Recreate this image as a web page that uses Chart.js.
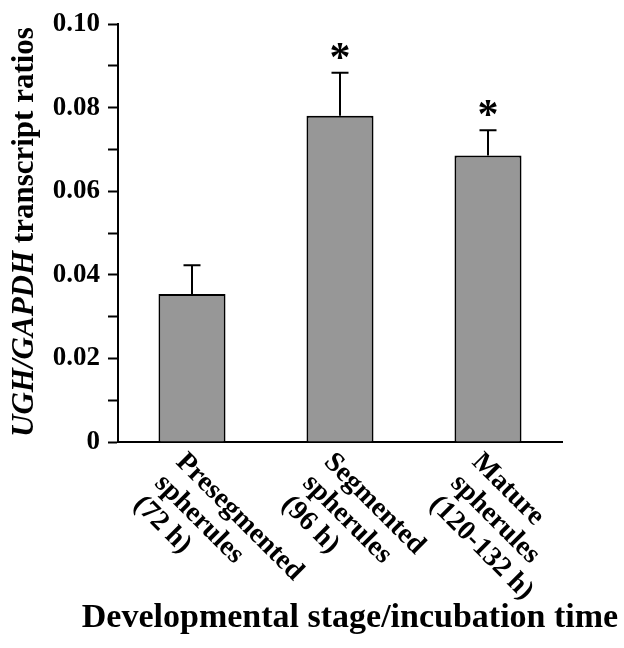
<!DOCTYPE html>
<html>
<head>
<meta charset="utf-8">
<script src="https://cdn.jsdelivr.net/npm/chart.js@4"></script>
<style>
  html, body { margin: 0; padding: 0; background: #fff; }
  canvas { display: block; }
</style>
</head>
<body>
<canvas id="c" width="624" height="648"></canvas>
<script>
// ---- data ----
const categories = [
  ['Presegmented', 'spherules', '(72 h)'],
  ['Segmented', 'spherules', '(96 h)'],
  ['Mature', 'spherules', '(120-132 h)']
];
const ratioValues = [0.0354, 0.0781, 0.0686];
const errorValues = [0.0069, 0.0103, 0.0060];
const significance = ['', '*', '*'];
const yTickLabels = ['0', '0.02', '0.04', '0.06', '0.08', '0.10'];
const yTitleItalic = 'UGH/GAPDH';
const yTitleRest = ' transcript ratios';
const xTitle = 'Developmental stage/incubation time';

const SERIF = "'Liberation Serif', 'Times New Roman', serif";

const annotatePlugin = {
  id: 'annotate',
  afterDatasetsDraw(chart) {
    const ctx = chart.ctx;
    const meta = chart.getDatasetMeta(0);
    const y = chart.scales.y;
    ctx.save();
    ctx.strokeStyle = '#000';
    ctx.lineWidth = 2;
    meta.data.forEach((bar, i) => {
      const top = y.getPixelForValue(ratioValues[i]);
      const errTop = y.getPixelForValue(ratioValues[i] + errorValues[i]);
      ctx.beginPath();
      ctx.moveTo(bar.x, top);
      ctx.lineTo(bar.x, errTop);
      ctx.moveTo(bar.x - 8.5, errTop);
      ctx.lineTo(bar.x + 8.5, errTop);
      ctx.stroke();
      if (significance[i]) {
        ctx.font = 'bold 42px ' + SERIF;
        ctx.fillStyle = '#000';
        ctx.textAlign = 'center';
        ctx.textBaseline = 'alphabetic';
        const m = ctx.measureText(significance[i]);
        const asc = m.actualBoundingBoxAscent, desc = m.actualBoundingBoxDescent;
        const cy = errTop - 22;
        ctx.fillText(significance[i], bar.x, cy - (desc - asc) / 2);
      }
    });
    ctx.restore();
  },
  afterDraw(chart) {
    const ctx = chart.ctx;
    const xs = chart.scales.x;
    const area = chart.chartArea;
    ctx.save();
    ctx.fillStyle = '#000';
    // rotated category labels
    ctx.font = 'bold 28px ' + SERIF;
    ctx.textAlign = 'left';
    ctx.textBaseline = 'alphabetic';
    categories.forEach((lines, i) => {
      const px = xs.getPixelForValue(i);
      ctx.save();
      ctx.translate(px - 17, area.bottom + 21);
      ctx.rotate(Math.PI / 4);
      lines.forEach((ln, j) => ctx.fillText(ln, 0, j * 30));
      ctx.restore();
    });
    // x title
    ctx.font = 'bold 34px ' + SERIF;
    ctx.textAlign = 'center';
    ctx.fillText(xTitle, 350, 627);
    // y title (mixed italic)
    ctx.save();
    ctx.translate(33, 232);
    ctx.rotate(-Math.PI / 2);
    const fI = 'italic bold 31px ' + SERIF;
    const fR = 'bold 31px ' + SERIF;
    ctx.font = fI; const wI = ctx.measureText(yTitleItalic).width;
    ctx.font = fR; const wR = ctx.measureText(yTitleRest).width;
    let sx = -(wI + wR) / 2;
    ctx.textAlign = 'left';
    ctx.font = fI; ctx.fillText(yTitleItalic, sx, 0);
    ctx.font = fR; ctx.fillText(yTitleRest, sx + wI, 0);
    ctx.restore();
    ctx.restore();
  }
};

new Chart(document.getElementById('c'), {
  type: 'bar',
  data: {
    labels: categories.map(c => c.join(' ')),
    datasets: [{
      data: ratioValues,
      backgroundColor: '#979797',
      borderColor: '#000',
      borderWidth: 2,
      barPercentage: 0.453,
      categoryPercentage: 1.0
    }]
  },
  options: {
    responsive: false,
    devicePixelRatio: 1,
    animation: false,
    layout: { padding: { top: 20, right: 62, bottom: 206, left: 0 } },
    plugins: { legend: { display: false }, tooltip: { enabled: false } },
    scales: {
      x: {
        type: 'category',
        offset: true,
        grid: { display: false },
        ticks: { display: false },
        border: { display: true, color: '#000', width: 2 },
        afterFit: s => { s.height = 0; }
      },
      y: {
        min: 0,
        max: 0.1,
        ticks: {
          stepSize: 0.01,
          autoSkip: false,
          color: '#000',
          padding: 8,
          font: { family: SERIF, size: 27, weight: 'bold' },
          callback: v => {
            const k = Math.round(v * 100);
            return k % 2 ? '' : yTickLabels[k / 2];
          }
        },
        grid: {
          display: true,
          drawOnChartArea: false,
          drawTicks: true,
          tickLength: 10,
          tickColor: '#000',
          tickWidth: 2
        },
        border: { display: true, color: '#000', width: 2 },
        afterFit: s => { s.width = 118; }
      }
    }
  },
  plugins: [annotatePlugin]
});
</script>
</body>
</html>
